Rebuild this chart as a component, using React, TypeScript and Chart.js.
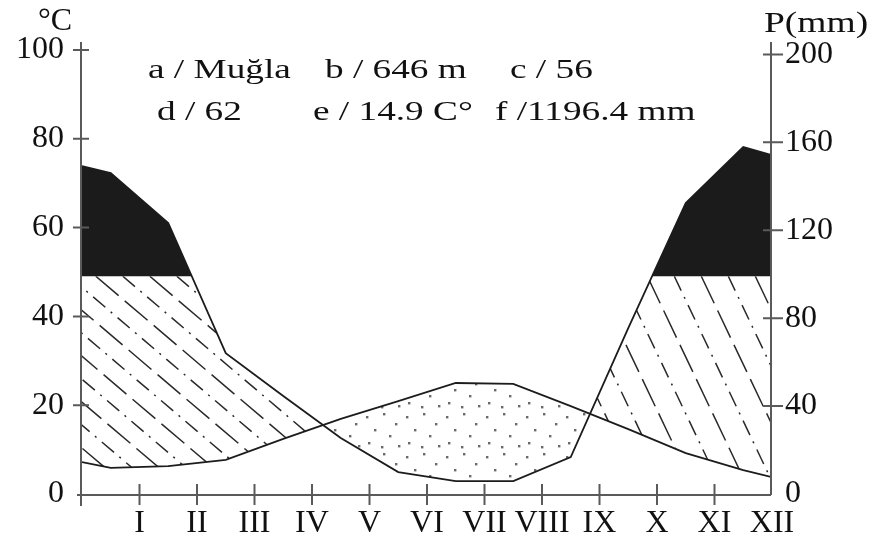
import React, { useEffect, useRef } from "react";
import { Chart, registerables } from "chart.js";

Chart.register(...registerables);

// ---- data (Muğla) ----
const months = ["I", "II", "III", "IV", "V", "VI", "VII", "VIII", "IX", "X", "XI", "XII"];
// mean monthly temperature, °C (left axis), plotted at mid-month
const temperature = [5.9, 6.3, 7.7, 12.4, 16.9, 20.9, 25.0, 24.8, 19.8, 14.6, 9.2, 5.4];
// mean monthly precipitation, mm (right axis), plotted at mid-month
const precipitation = [146.0, 123.3, 64.1, 44.6, 25.5, 10.0, 5.9, 5.9, 16.8, 75.5, 132.4, 157.9];
// where each curve meets the left and right frame of the diagram
const temperatureEdges = [7.2, 3.8];
const precipitationEdges = [149.2, 154.2];
const temperatureTicks = [0, 20, 40, 60, 80, 100];
const precipitationTicks = [0, 40, 80, 120, 160, 200];
const humidLimit = 100; // mm, above it the area is filled black
const stationInfo = [
  ["a / Muğla", "b / 646 m", "c / 56"],
  ["d / 62", "e / 14.9 C°", "f /1196.4 mm"],
];

const FONT = '"Liberation Serif", "Times New Roman", serif';

function series(values: number[], edges: number[]) {
  return [
    { x: 0, y: edges[0] },
    ...values.map((v, i) => ({ x: i + 0.5, y: v })),
    { x: 12, y: edges[1] },
  ];
}

const DOT_TILE: [number, number][] = [
  [4, 6], [21, 3], [33, 13], [12, 19], [27, 25], [6, 32], [19, 36], [36, 35],
];

function hatch(ctx: CanvasRenderingContext2D, x0: number, x1: number, top: number, bottom: number, slope: number, spacing: number) {
  const span = (bottom - top) / slope;
  let k = 0;
  for (let xi = x0 - span - spacing * 2; xi < x1 + spacing; xi += spacing, k++) {
    ctx.setLineDash(k % 2 === 0 ? [30, 8] : [16, 7, 2, 7]);
    ctx.beginPath();
    ctx.moveTo(xi, top);
    ctx.lineTo(xi + span, bottom);
    ctx.stroke();
  }
  ctx.setLineDash([]);
}

const fillPlugin = {
  id: "climateFills",
  beforeDatasetsDraw(chart: any) {
    const { ctx, chartArea: a, scales } = chart;
    const T = chart.getDatasetMeta(0).data.map((e: any) => [e.x, e.y]);
    const P = chart.getDatasetMeta(1).data.map((e: any) => [e.x, e.y]);
    const yLimit = scales.y1.getPixelForValue(humidLimit) + 2;
    const poly = (pts: number[][], closeY: number) => {
      const p = new Path2D();
      p.moveTo(pts[0][0], closeY);
      pts.forEach(([x, y]) => p.lineTo(x, y));
      p.lineTo(pts[pts.length - 1][0], closeY);
      p.closePath();
      return p;
    };
    const belowP = poly(P, a.bottom);
    const aboveP = poly(P, a.top - 20);
    const belowT = poly(T, a.bottom);
    const aboveT = poly(T, a.top - 20);

    // black: precipitation above 100 mm
    ctx.save();
    ctx.beginPath();
    ctx.rect(a.left, a.top - 20, a.width, yLimit - a.top + 20);
    ctx.clip();
    ctx.fillStyle = "#1b1b1b";
    ctx.fill(belowP);
    ctx.restore();

    // hatched: humid period
    ctx.save();
    ctx.beginPath();
    ctx.rect(a.left, yLimit, a.width, a.bottom - yLimit);
    ctx.clip();
    ctx.clip(belowP);
    ctx.clip(aboveT);
    ctx.strokeStyle = "#2a2a2a";
    ctx.lineWidth = 1.5;
    const mid = scales.x.getPixelForValue(6);
    ctx.save();
    ctx.beginPath();
    ctx.rect(a.left, a.top, mid - a.left, a.height);
    ctx.clip();
    hatch(ctx, a.left, mid, yLimit, a.bottom, 0.85, 27);
    ctx.restore();
    ctx.save();
    ctx.beginPath();
    ctx.rect(mid, a.top, a.right - mid, a.height);
    ctx.clip();
    hatch(ctx, mid, a.right, yLimit, a.bottom, 2.1, 27);
    ctx.restore();
    ctx.restore();

    // dotted: arid period
    ctx.save();
    ctx.clip(aboveP);
    ctx.clip(belowT);
    ctx.fillStyle = "#6a6a6a";
    for (let ty = a.top; ty < a.bottom; ty += 40) {
      for (let tx = a.left; tx < a.right; tx += 40) {
        for (const [dx, dy] of DOT_TILE) ctx.fillRect(tx + dx, ty + dy, 2.4, 2.4);
      }
    }
    ctx.restore();
  },
};

const axesPlugin = {
  id: "frameAxes",
  afterDatasetsDraw(chart: any) {
    const { ctx, chartArea: a, scales } = chart;
    const L = a.left - 1;
    const R = a.right - 1;
    const B = a.bottom + 1;
    ctx.save();
    ctx.strokeStyle = "#5a5a5a";
    ctx.lineWidth = 2;
    ctx.setLineDash([]);
    ctx.beginPath();
    ctx.moveTo(L, a.top - 8);
    ctx.lineTo(L, B + 11);
    ctx.moveTo(L - 4, B);
    ctx.lineTo(R, B);
    ctx.moveTo(R, a.top - 8);
    ctx.lineTo(R, B);
    temperatureTicks.forEach((v) => {
      if (v === 0) return;
      const y = scales.y.getPixelForValue(v);
      ctx.moveTo(L - 8, y);
      ctx.lineTo(L + 8, y);
    });
    precipitationTicks.forEach((v) => {
      if (v === 0) return;
      const y = scales.y1.getPixelForValue(v);
      ctx.moveTo(R - 8, y);
      ctx.lineTo(R + 12, y);
    });
    months.forEach((_, i) => {
      if (i === months.length - 1) return;
      const x = scales.x.getPixelForValue(i + 1);
      ctx.moveTo(x, B - 11);
      ctx.lineTo(x, B + 10);
    });
    ctx.stroke();
    ctx.restore();
  },
};

function stretchedText(ctx: CanvasRenderingContext2D, text: string, x: number, y: number, size: number, sx: number) {
  ctx.save();
  ctx.translate(x, y);
  ctx.scale(sx, 1);
  ctx.font = `${size}px ${FONT}`;
  ctx.textAlign = "left";
  ctx.textBaseline = "alphabetic";
  ctx.fillStyle = "#111";
  ctx.fillText(text, 0, 0);
  ctx.restore();
}

const textPlugin = {
  id: "diagramText",
  afterDraw(chart: any) {
    const ctx = chart.ctx as CanvasRenderingContext2D;
    stretchedText(ctx, "°C", 38, 30, 32, 1.0);
    stretchedText(ctx, "P(mm)", 764, 32, 30, 1.25);
    const xs = [
      [148, 325, 510],
      [157, 313, 495],
    ];
    const baselines = [78, 120];
    stationInfo.forEach((row, r) =>
      row.forEach((t, c) => stretchedText(ctx, t, xs[r][c], baselines[r], 27, 1.38))
    );
  },
};

export default function App() {
  const ref = useRef<HTMLCanvasElement>(null);
  useEffect(() => {
    const canvas = ref.current!;
    const tickFont = { family: FONT, size: 32 };
    const chart = new Chart(canvas, {
      type: "line",
      data: {
        datasets: [
          {
            label: "Temperature",
            data: series(temperature, temperatureEdges),
            yAxisID: "y",
            borderColor: "#1c1c1c",
            borderWidth: 1.8,
            pointRadius: 0,
            tension: 0,
            fill: false,
          },
          {
            label: "Precipitation",
            data: series(precipitation, precipitationEdges),
            yAxisID: "y1",
            borderColor: "#1c1c1c",
            borderWidth: 1.8,
            pointRadius: 0,
            tension: 0,
            fill: false,
          },
        ],
      },
      options: {
        animation: false,
        responsive: false,
        layout: { padding: { top: 50, left: 0, right: 0, bottom: 0 } },
        plugins: { legend: { display: false }, tooltip: { enabled: false } },
        scales: {
          x: {
            type: "linear",
            position: "bottom",
            min: 0,
            max: 12,
            afterBuildTicks: (s: any) => {
              s.ticks = months.map((_, i) => ({ value: i + 1 }));
            },
            ticks: {
              autoSkip: false,
              maxRotation: 0,
              padding: 10,
              font: tickFont,
              color: "#111",
              callback: (v: any) => months[Number(v) - 1] ?? "",
            },
            grid: { display: false, drawTicks: false },
            border: { display: false },
            afterFit: (s: any) => {
              s.height = 55;
              s.paddingLeft = 0;
              s.paddingRight = 0;
            },
          },
          y: {
            type: "linear",
            position: "left",
            min: 0,
            max: 100,
            afterBuildTicks: (s: any) => {
              s.ticks = temperatureTicks.map((v) => ({ value: v }));
            },
            ticks: { padding: 18, font: tickFont, color: "#111" },
            grid: { display: false, drawTicks: false },
            border: { display: false },
            afterFit: (s: any) => {
              s.width = 82;
            },
          },
          y1: {
            type: "linear",
            position: "right",
            min: 0,
            max: 202,
            afterBuildTicks: (s: any) => {
              s.ticks = precipitationTicks.map((v) => ({ value: v }));
            },
            ticks: { padding: 13, font: tickFont, color: "#111" },
            grid: { display: false, drawTicks: false },
            border: { display: false },
            afterFit: (s: any) => {
              s.width = 877 - 772;
            },
          },
        },
      } as any,
      plugins: [fillPlugin, axesPlugin, textPlugin],
    });
    return () => chart.destroy();
  }, []);
  return (
    <div style={{ position: "fixed", left: 0, top: 0, width: 877, height: 549, background: "#fff" }}>
      <canvas ref={ref} width={877} height={549} style={{ display: "block" }} />
    </div>
  );
}
